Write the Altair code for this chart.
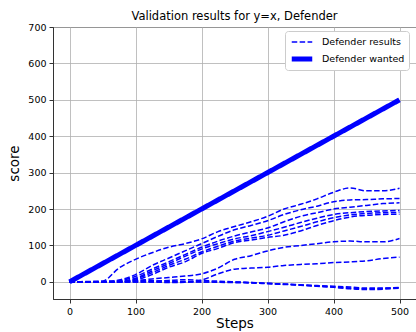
import altair as alt
import pandas as pd

# Validation steps at which every run was scored
steps = [0, 25, 50, 75, 100, 125, 150, 175, 200, 225, 250,
         275, 300, 325, 350, 375, 400, 425, 450, 475, 500]

# Defender scores, one list per validation run
run_1 = [0, 0, 2, 38, 62, 80, 95, 105, 118, 138, 152, 165, 180, 200, 213, 228, 246, 258, 250, 250, 257]
run_2 = [0, 0, 0, 5, 20, 45, 65, 85, 105, 125, 143, 155, 168, 185, 198, 208, 220, 225, 226, 228, 229]
run_3 = [0, 0, 0, 3, 15, 35, 55, 75, 95, 112, 126, 137, 148, 165, 180, 190, 200, 205, 210, 215, 217]
run_4 = [0, 0, 0, 2, 10, 30, 50, 70, 90, 105, 118, 127, 138, 150, 163, 175, 185, 190, 193, 195, 196]
run_5 = [0, 0, 0, 0, 8, 25, 45, 62, 82, 98, 112, 120, 128, 140, 152, 165, 176, 184, 188, 190, 191]
run_6 = [0, 0, 0, 0, 5, 20, 40, 55, 78, 92, 108, 115, 122, 128, 140, 155, 168, 178, 183, 185, 186]
run_7 = [0, 0, 0, 0, 3, 8, 12, 16, 22, 38, 62, 72, 85, 95, 100, 105, 110, 112, 110, 110, 119]
run_8 = [0, 0, 0, 0, 0, 0, 0, 0, 5, 22, 35, 38, 40, 45, 48, 50, 53, 55, 58, 64, 68]
run_9 = [0, 0, 0, 0, 0, 0, -2, -1, 0, 0, 0, -2, -4, -6, -9, -12, -15, -19, -21, -20, -17]
run_10 = [0, 1, 2, 3, 4, 3, 2, 1, 0, -1, -2, -3, -5, -7, -9, -11, -14, -17, -19, -18, -15]
run_11 = [0, 0, 0, 0, 1, 2, 4, 6, 4, 2, 0, -2, -4, -6, -8, -10, -12, -14, -17, -17, -16]
runs = [run_1, run_2, run_3, run_4, run_5, run_6, run_7, run_8, run_9, run_10, run_11]

# Target behaviour: score equal to step (y = x)
wanted_steps = [0, 500]
wanted_scores = [0, 500]

kinds = ["Defender results", "Defender wanted"]
x_ticks = [0, 100, 200, 300, 400, 500]
y_ticks = [0, 100, 200, 300, 400, 500, 600, 700]

rows = []
for i, scores in enumerate(runs):
    for st, sc in zip(steps, scores):
        rows.append({"step": st, "score": sc, "run": f"run{i + 1}", "kind": kinds[0]})
for st, sc in zip(wanted_steps, wanted_scores):
    rows.append({"step": st, "score": sc, "run": "wanted", "kind": kinds[1]})
df = pd.DataFrame(rows)

FONT = "DejaVu Sans"

legend = alt.Legend(
    title=None,
    orient="none",
    legendX=232,
    legendY=4,
    fillColor="white",
    strokeColor="#cccccc",
    cornerRadius=3,
    padding=4,
    symbolType="stroke",
    symbolSize=420,
    clipHeight=14,
    labelFont=FONT,
    labelFontSize=9.5,
    labelColor="black",
    labelOffset=7,
    rowPadding=3,
)

chart = (
    alt.Chart(df)
    .mark_line(interpolate="monotone")
    .encode(
        x=alt.X(
            "step:Q",
            scale=alt.Scale(domain=[-25, 525], nice=False, zero=False),
            axis=alt.Axis(values=x_ticks, title="Steps", titlePadding=1),
        ),
        y=alt.Y(
            "score:Q",
            scale=alt.Scale(domain=[-47, 700], nice=False, zero=False),
            axis=alt.Axis(values=y_ticks, title="score", titlePadding=6),
        ),
        color=alt.Color("kind:N", scale=alt.Scale(domain=kinds, range=["#0000ff", "#0000ff"]), legend=legend),
        strokeDash=alt.StrokeDash("kind:N", scale=alt.Scale(domain=kinds, range=[[5.5, 2.4], [1, 0]]), legend=legend),
        strokeWidth=alt.StrokeWidth("kind:N", scale=alt.Scale(domain=kinds, range=[1.5, 5]), legend=legend),
        detail="run:N",
    )
    .properties(
        width=363,
        height=272,
        title=alt.TitleParams(
            "Validation results for y=x, Defender",
            font=FONT,
            fontSize=11.5,
            fontWeight="normal",
            color="black",
            anchor="middle",
            offset=0,
        ),
        autosize=alt.AutoSizeParams(type="none"),
        padding={"left": 53, "top": 27, "right": 0, "bottom": 33},
    )
    .configure_view(stroke="#333333", strokeWidth=1)
    .configure_axis(
        labelFont=FONT,
        labelFontSize=9.5,
        labelColor="black",
        titleFont=FONT,
        titleFontSize=13.5,
        titleFontWeight="normal",
        titleColor="black",
        domainColor="#333333",
        tickColor="#333333",
        tickSize=4,
        labelPadding=3,
        gridColor="#b0b0b0",
        gridWidth=0.8,
    )
)

chart.save("out.html", embed_options={"renderer": "svg", "actions": False})
